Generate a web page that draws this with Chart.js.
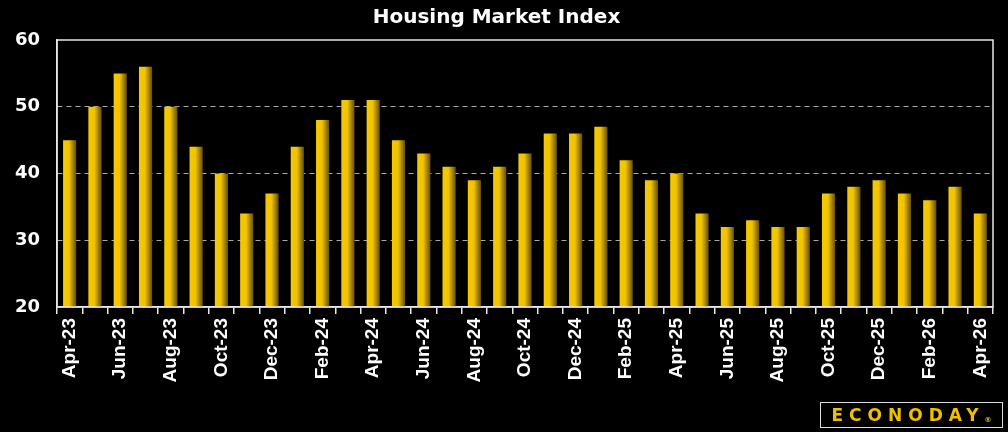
<!DOCTYPE html>
<html>
<head>
<meta charset="utf-8">
<script src="https://cdn.jsdelivr.net/npm/chart.js@4"></script>
<style>
  body { margin: 0; background: #000; }
  #wrap { position: relative; width: 1008px; height: 432px; }
  #logo {
    position: absolute; left: 820px; top: 402px; width: 181px; height: 24px;
    border: 1px solid #ddd; box-sizing: content-box;
    color: #f0c000; font: bold 17px "DejaVu Sans", sans-serif; letter-spacing: 6px;
    text-align: center; line-height: 24px;
  }
  #logo sup { font-size: 7px; letter-spacing: 0; vertical-align: -1px; }
</style>
</head>
<body>
<div id="wrap">
  <canvas id="hmiChart" width="1008" height="432"></canvas>
  <div id="logo">ECONODAY<sup>®</sup></div>
</div>
<script>
// monthly labels, Apr-23 .. Apr-26
const months = ["Apr-23", "May-23", "Jun-23", "Jul-23", "Aug-23", "Sep-23", "Oct-23", "Nov-23", "Dec-23",
    "Jan-24", "Feb-24", "Mar-24", "Apr-24", "May-24", "Jun-24", "Jul-24", "Aug-24", "Sep-24", "Oct-24", "Nov-24", "Dec-24",
    "Jan-25", "Feb-25", "Mar-25", "Apr-25", "May-25", "Jun-25", "Jul-25", "Aug-25", "Sep-25", "Oct-25", "Nov-25", "Dec-25",
    "Jan-26", "Feb-26", "Mar-26", "Apr-26"];
const hmiValues = [45, 50, 55, 56, 50, 44, 40, 34, 37,
    44, 48, 51, 51, 45, 43, 41, 39, 41, 43, 46, 46,
    47, 42, 39, 40, 34, 32, 33, 32, 32, 37, 38, 39,
    37, 36, 38, 34];
const yTicks = [20, 30, 40, 50, 60];

const barPct = 0.52;

function barGradient(context) {
    const chart = context.chart;
    const x = chart.scales.x;
    if (!chart.chartArea || !x) return "#e0b400";
    const cx = x.getPixelForValue(context.dataIndex);
    const w = (x.width / months.length) * barPct;
    const g = chart.ctx.createLinearGradient(cx - w / 2, 0, cx + w / 2, 0);
    g.addColorStop(0, "#f6c800");
    g.addColorStop(0.45, "#f2c400");
    g.addColorStop(1, "#644f00");
    return g;
}

// white frame round the plot area
const frame = {
    id: "frame",
    afterDraw(chart) {
        const a = chart.chartArea, c = chart.ctx;
        c.save();
        c.strokeStyle = "#e8e8e8";
        c.lineWidth = 1.5;
        c.strokeRect(a.left, a.top, a.right - a.left, a.bottom - a.top);
        c.restore();
    }
};

const ctx = document.getElementById("hmiChart").getContext("2d");
new Chart(ctx, {
    type: "bar",
    data: {
        labels: months,
        datasets: [{
            data: hmiValues,
            backgroundColor: barGradient,
            borderWidth: 0,
            barPercentage: barPct,
            categoryPercentage: 1
        }]
    },
    options: {
        responsive: false,
        animation: false,
        layout: { padding: { left: 0, right: 15, top: 0, bottom: 0 } },
        plugins: {
            legend: { display: false },
            tooltip: { enabled: false },
            title: {
                display: true,
                text: "Housing Market Index",
                color: "#fff",
                font: { family: "DejaVu Sans", size: 20, weight: "bold" },
                padding: { top: 6, bottom: 10 }
            }
        },
        scales: {
            x: {
                offset: true,
                grid: {
                    offset: true,
                    drawOnChartArea: false,
                    drawTicks: true,
                    tickLength: 7,
                    color: "#e8e8e8",
                    lineWidth: 1.5
                },
                border: { color: "#e8e8e8", width: 1.5 },
                ticks: {
                    autoSkip: false,
                    minRotation: 90,
                    maxRotation: 90,
                    padding: 4,
                    color: "#fff",
                    font: { family: "Liberation Sans", size: 19, weight: "bold" },
                    callback: (v, i) => (i % 2 === 0 ? months[i] : "")
                },
                afterFit: s => { s.height = 125; }
            },
            y: {
                min: 20,
                max: 60,
                afterBuildTicks: s => { s.ticks = yTicks.map(v => ({ value: v })); },
                grid: {
                    drawTicks: false,
                    color: c => (c.tick && (c.tick.value === 20 || c.tick.value === 60) ? "rgba(0,0,0,0)" : "#a8a8a8"),
                    lineWidth: 1
                },
                border: { color: "#e8e8e8", width: 1.5, dash: [5, 4] },
                ticks: {
                    padding: 17,
                    color: "#fff",
                    font: { family: "DejaVu Sans", size: 18, weight: "bold" }
                },
                afterFit: s => { s.width = 57; }
            }
        }
    },
    plugins: [frame]
});
</script>
</body>
</html>
